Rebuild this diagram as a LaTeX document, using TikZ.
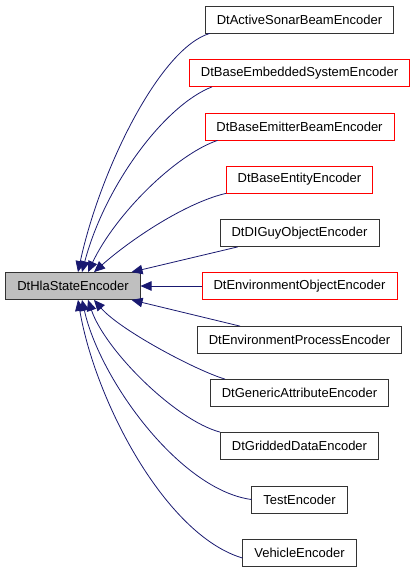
\documentclass[tikz,border=0pt]{standalone}
\usepackage{fontspec}
\setmainfont{Liberation Sans}
\usetikzlibrary{arrows.meta, positioning}
\definecolor{edgeblue}{RGB}{25,25,112}
\definecolor{rootgray}{RGB}{191,191,191}
\tikzset{
  cls/.style={draw=black!80, rectangle, minimum height=27pt, inner xsep=11.5pt, inner ysep=0pt, line width=0.8pt, font=\fontsize{13}{15}\selectfont},
  redcls/.style={cls, draw=red},
  rootcls/.style={cls, fill=rootgray},
  inh/.style={edgeblue, line width=0.8pt, -{Triangle[length=11pt,width=9.5pt]}}
}
\begin{document}
\begin{tikzpicture}[x=1pt,y=1pt,yscale=-1,xscale=1]
\useasboundingbox (0,0) rectangle (416,573);

% Root
\node[rootcls] (hla) at (73,286) {DtHlaStateEncoder};

% Derived classes
\node[cls]    (sonar)   at (299.5,19.5)  {DtActiveSonarBeamEncoder};
\node[redcls] (embsys)  at (299.5,73)    {DtBaseEmbeddedSystemEncoder};
\node[redcls] (emitter) at (299.5,126.5) {DtBaseEmitterBeamEncoder};
\node[redcls] (entity)  at (299.5,179.5) {DtBaseEntityEncoder};
\node[cls]    (diguy)   at (299.5,233)   {DtDIGuyObjectEncoder};
\node[redcls] (envobj)  at (299.5,286)   {DtEnvironmentObjectEncoder};
\node[cls]    (envproc) at (299.5,340)   {DtEnvironmentProcessEncoder};
\node[cls]    (generic) at (299.5,393)   {DtGenericAttributeEncoder};
\node[cls]    (gridded) at (299.5,446)   {DtGriddedDataEncoder};
\node[cls]    (test)    at (299.5,499.5) {TestEncoder};
\node[cls]    (vehicle) at (299.5,553)   {VehicleEncoder};

% Inheritance arrows (upper half)
\draw[inh] ([xshift=5pt]sonar.south west) .. controls (160,48) and (100,170) .. ([xshift=5pt]hla.north);
\draw[inh] ([xshift=23pt]embsys.south west) .. controls (165,105) and (105,185) .. ([xshift=9pt]hla.north);
\draw[inh] ([xshift=13pt]emitter.south west) .. controls (175,155) and (115,215) .. ([xshift=15pt]hla.north);
\draw[inh] (entity.south west) .. controls (185,203) and (130,240) .. ([xshift=21pt]hla.north);
\draw[inh] ([xshift=18pt]diguy.south west) -- ([xshift=-9pt]hla.north east);

% Middle
\draw[inh] (envobj.west) -- (hla.east);

% Inheritance arrows (lower half)
\draw[inh] ([xshift=43pt]envproc.north west) -- ([xshift=-9pt]hla.south east);
\draw[inh] ([xshift=15pt]generic.north west) .. controls (195,370) and (120,330) .. ([xshift=21pt]hla.south);
\draw[inh] (gridded.north west) .. controls (175,420) and (105,350) .. ([xshift=15pt]hla.south);
\draw[inh] (test.west) .. controls (180,490) and (100,380) .. ([xshift=9pt]hla.south);
\draw[inh] ([yshift=5pt]vehicle.west) .. controls (165,535) and (95,400) .. ([xshift=5pt]hla.south);

\end{tikzpicture}
\end{document}
